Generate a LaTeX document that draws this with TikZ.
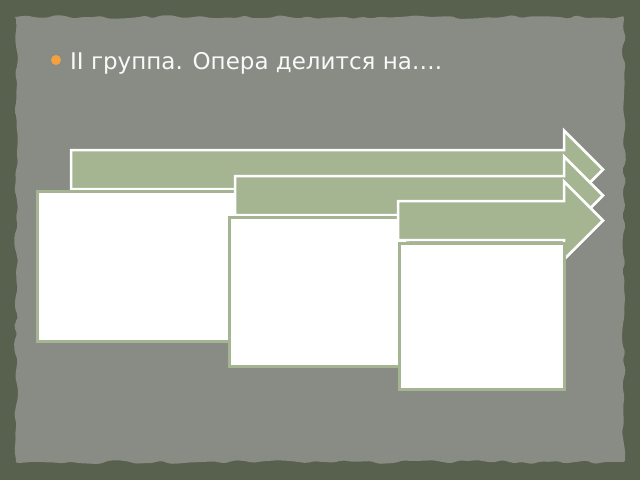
\documentclass[tikz,border=0pt]{standalone}
\usepackage{fontspec}
\setmainfont{DejaVu Sans}
\usetikzlibrary{decorations.pathmorphing}

\definecolor{outerbg}{RGB}{88,96,78}
\definecolor{innerbg}{RGB}{137,140,132}
\definecolor{sage}{RGB}{165,180,145}
\definecolor{dot}{RGB}{244,160,64}

\tikzset{
  arrowshape/.style={fill=sage,draw=white,line width=2.5pt,line join=miter},
  boxshape/.style={draw=sage,fill=white,line width=3pt,rectangle,inner sep=0pt},
}
\pgfmathsetseed{7}

\begin{document}
\begin{tikzpicture}[x=1pt,y=-1pt]
\useasboundingbox (0,0) rectangle (640,480);
\fill [outerbg] (0,0) rectangle (640,480);
\fill [innerbg,rounded corners=2pt,decorate,decoration={random steps,segment length=9pt,amplitude=2pt}]
  (16,17) rectangle (624,462);

\fill [dot] (56,60) circle (5);
\node [anchor=base west,text=white!95!gray,inner sep=0pt,font=\fontsize{23}{27}\selectfont]
  (title) at (70,69) {II группа. Опера делится на….};

% arrow, then the box under it
\foreach \i/\ax/\cy/\bx/\by/\bw/\bh in {1/71/169.5/36/190/200/150, 2/235/195.5/228/216/178/149, 3/398/220.5/398/242/165/146}{
  \draw [arrowshape] (\ax,\cy-19.5) -- (564,\cy-19.5) -- (564,\cy-39) -- (603,\cy)
    -- (564,\cy+39) -- (564,\cy+19.5) -- (\ax,\cy+19.5) -- cycle;
  \node [boxshape,anchor=north west,minimum width=\bw pt,minimum height=\bh pt] (box\i) at (\bx,\by) {};
}
\end{tikzpicture}
\end{document}
